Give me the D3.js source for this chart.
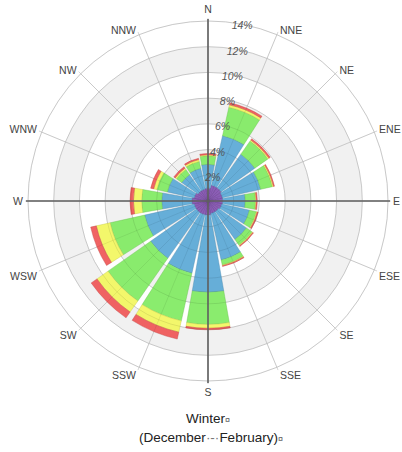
<!DOCTYPE html>
<html>
<head>
<meta charset="utf-8">
<script src="https://cdn.jsdelivr.net/npm/d3@7"></script>
<style>
body { margin: 0; background: #fff; }
svg { font-family: "Liberation Sans", Arial, sans-serif; }
</style>
</head>
<body>
<div id="chart"></div>
<script>
// wind directions, clockwise from north
var directions = ["N", "NNE", "NE", "ENE", "E", "ESE", "SE", "SSE",
                  "S", "SSW", "SW", "WSW", "W", "WNW", "NW", "NNW"];

// frequency (%) of each speed class per direction
var purple = [1.00, 1.25, 1.25, 1.15, 1.15, 1.10, 1.00, 1.00, 1.10, 1.10, 1.10, 1.10, 1.25, 1.10, 0.95, 0.95];
var blue   = [1.85, 3.95, 3.20, 3.05, 1.75, 2.20, 2.65, 3.70, 6.00, 4.65, 4.35, 3.95, 2.35, 2.14, 1.55, 1.65];
var green  = [0.67, 2.27, 1.25, 0.93, 0.80, 0.55, 0.55, 0.40, 2.50, 3.80, 4.05, 2.75, 1.56, 0.84, 0.50, 0.55];
var yellow = [0.08, 0.19, 0.10, 0.09, 0.06, 0.07, 0.06, 0.05, 0.30, 0.90, 1.05, 1.10, 0.64, 0.25, 0.12, 0.15];
var red    = [0.10, 0.16, 0.12, 0.08, 0.08, 0.08, 0.06, 0.07, 0.12, 0.55, 0.55, 0.45, 0.27, 0.24, 0.13, 0.10];

var ringTicks = [2, 4, 6, 8, 10, 12, 14];
var bandRings = [[2, 4], [6, 8], [10, 12]];

var keys = ["purple", "blue", "green", "yellow", "red"];
var colors = {
    purple: "#8250b0",
    blue: "#5aa8d6",
    green: "#80ea62",
    yellow: "#f2f65e",
    red: "#ef5656"
};

var width = 402, height = 452;
var cx = 208, cy = 201, R = 180;

var table = directions.map(function(d, i) {
    return {dir: d, purple: purple[i], blue: blue[i], green: green[i],
            yellow: yellow[i], red: red[i]};
});
var series = d3.stack().keys(keys)(table);

var r = d3.scaleLinear().domain([0, 14]).range([0, R]);
var angle = d3.scaleBand().domain(directions)
    .range([-Math.PI / 16, 2 * Math.PI - Math.PI / 16]);

var svg = d3.select("#chart").append("svg")
    .attr("width", width)
    .attr("height", height);

var g = svg.append("g").attr("transform", "translate(" + cx + "," + cy + ")");

// grey bands
g.selectAll("path.band").data(bandRings).enter().append("path")
    .attr("class", "band")
    .attr("d", function(b) {
        return d3.arc()({innerRadius: r(b[0]), outerRadius: r(b[1]),
                         startAngle: 0, endAngle: 2 * Math.PI});
    })
    .attr("fill", "#f1f1f1");

g.selectAll("circle.ring").data(ringTicks).enter().append("circle")
    .attr("class", "ring")
    .attr("r", function(d) { return r(d); })
    .attr("fill", "none")
    .attr("stroke", "#dadada")
    .attr("stroke-width", 1);

function dirAngle(d) {
    return angle(d) + angle.bandwidth() / 2;
}

// light spokes
g.selectAll("line.spoke").data(directions).enter().append("line")
    .attr("class", "spoke")
    .attr("x1", 0).attr("y1", 0)
    .attr("x2", function(d) { return Math.sin(dirAngle(d)) * (R + 3); })
    .attr("y2", function(d) { return -Math.cos(dirAngle(d)) * (R + 3); })
    .attr("stroke", "#d6d6d6")
    .attr("stroke-width", 1);

// bars
var half = angle.bandwidth() / 2;
var gap = 1.3 * Math.PI / 180;
var arc = d3.arc()
    .innerRadius(function(d) { return r(d[0]); })
    .outerRadius(function(d) { return r(d[1]); })
    .startAngle(function(d) { return dirAngle(d.data.dir) - half + (d.key == "purple" ? 0 : gap); })
    .endAngle(function(d) { return dirAngle(d.data.dir) + half - (d.key == "purple" ? 0 : gap); });

var layers = g.selectAll("g.layer").data(series).enter().append("g")
    .attr("class", "layer")
    .attr("fill", function(s) { return colors[s.key]; })
    .attr("stroke", function(s) { return d3.color(colors[s.key]).darker(0.6); })
    .attr("stroke-width", function(s) { return s.key == "purple" ? 0.5 : 0.4; });

layers.selectAll("path").data(function(s) {
        return s.map(function(d) { d.key = s.key; return d; });
    })
    .enter().append("path")
    .attr("d", arc)
    .attr("fill-opacity", 0.92);

// grid showing through bars
g.selectAll("circle.over").data(ringTicks).enter().append("circle")
    .attr("class", "over")
    .attr("r", function(d) { return r(d); })
    .attr("fill", "none")
    .attr("stroke", "rgba(0,0,0,0.08)");

g.selectAll("line.over").data(directions).enter().append("line")
    .attr("class", "over")
    .attr("x1", 0).attr("y1", 0)
    .attr("x2", function(d) { return Math.sin(dirAngle(d)) * R; })
    .attr("y2", function(d) { return -Math.cos(dirAngle(d)) * R; })
    .attr("stroke", "rgba(0,0,0,0.06)");

// main axes
g.selectAll("line.axis").data(["N", "E", "S", "W"]).enter().append("line")
    .attr("class", "axis")
    .attr("x1", 0).attr("y1", 0)
    .attr("x2", function(d) { return Math.sin(dirAngle(d)) * (R + 2); })
    .attr("y2", function(d) { return -Math.cos(dirAngle(d)) * (R + 2); })
    .attr("stroke", "#606060")
    .attr("stroke-width", 1.6);

// percent labels
var labAng = 11 * Math.PI / 180;
g.selectAll("text.pct").data(ringTicks).enter().append("text")
    .attr("class", "pct")
    .attr("x", function(d) { return Math.sin(labAng) * (r(d) - 1); })
    .attr("y", function(d) { return -Math.cos(labAng) * (r(d) - 1) + 4; })
    .attr("text-anchor", "middle")
    .attr("font-size", 10.5)
    .attr("font-style", "italic")
    .attr("fill", "#555")
    .text(function(d) { return d + "%"; });

// direction labels
g.selectAll("text.dir").data(directions).enter().append("text")
    .attr("class", "dir")
    .attr("x", function(d) {
        var x = Math.sin(dirAngle(d)) * (R + 3);
        if (Math.abs(x) < 1) return x;
        return x + (x > 0 ? 2 : -2);
    })
    .attr("y", function(d) {
        var y = -Math.cos(dirAngle(d)) * (R + 3);
        if (d == "N") return y - 5;
        if (d == "S") return y + 12;
        if (Math.abs(y) < 1) return y + 4;
        return y > 0 ? y + 9 : y + 2;
    })
    .attr("text-anchor", function(d) {
        var x = Math.sin(dirAngle(d));
        if (Math.abs(x) < 0.01) return "middle";
        return x > 0 ? "start" : "end";
    })
    .attr("font-size", 10.5)
    .attr("fill", "#444")
    .text(function(d) { return d; });

// caption
var cap = svg.append("g").attr("text-anchor", "middle").attr("fill", "#222");
var t1 = cap.append("text").attr("x", 208).attr("y", 423).attr("font-size", 13.5);
t1.append("tspan").text("Winter");
t1.append("tspan").attr("font-size", 9).attr("fill", "#555").text("¤");
var t2 = cap.append("text").attr("x", 211).attr("y", 442).attr("font-size", 13.5);
t2.append("tspan").text("(December");
t2.append("tspan").attr("fill", "#777").text("·-·");
t2.append("tspan").text("February)");
t2.append("tspan").attr("font-size", 9).attr("fill", "#555").text("¤");
</script>
</body>
</html>
